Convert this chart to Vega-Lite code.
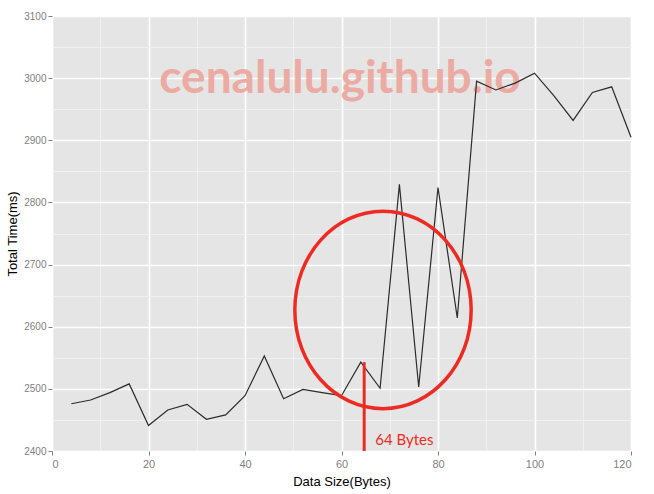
{
  "$schema": "https://vega.github.io/schema/vega-lite/v6.json",
  "autosize": "none",
  "width": 579,
  "height": 435,
  "padding": {"left": 52, "top": 16, "right": 23, "bottom": 43},
  "background": "white",
  "config": {
    "view": {"fill": "#e5e5e5", "stroke": null},
    "font": "Liberation Sans"
  },
  "datasets": {
    "series": [
      {"size": 4, "time": 2476},
      {"size": 8, "time": 2482},
      {"size": 12, "time": 2494},
      {"size": 16, "time": 2508},
      {"size": 20, "time": 2441},
      {"size": 24, "time": 2466},
      {"size": 28, "time": 2475},
      {"size": 32, "time": 2451},
      {"size": 36, "time": 2458},
      {"size": 40, "time": 2489},
      {"size": 44, "time": 2553},
      {"size": 48, "time": 2484},
      {"size": 52, "time": 2499},
      {"size": 56, "time": 2494},
      {"size": 60, "time": 2489},
      {"size": 64, "time": 2543},
      {"size": 68, "time": 2501},
      {"size": 72, "time": 2829},
      {"size": 76, "time": 2503},
      {"size": 80, "time": 2824},
      {"size": 84, "time": 2614},
      {"size": 88, "time": 2995},
      {"size": 92, "time": 2981},
      {"size": 96, "time": 2992},
      {"size": 100, "time": 3008},
      {"size": 104, "time": 2972},
      {"size": 108, "time": 2932},
      {"size": 112, "time": 2977},
      {"size": 116, "time": 2986},
      {"size": 120, "time": 2905}
    ],
    "marker": [{"size": 64.7, "top": 2543, "bottom": 2400}],
    "circle": [{"size": 68.6, "time": 2627}],
    "label": [{"size": 67.0, "time": 2418, "text": "64 Bytes"}],
    "watermark": [{"size": 59.7, "time": 2976, "text": "cenalulu.github.io"}]
  },
  "encoding": {
    "x": {
      "field": "size",
      "type": "quantitative",
      "scale": {"domain": [0, 120], "nice": false, "zero": false},
      "axis": {
        "title": "Data Size(Bytes)",
        "values": [0, 10, 20, 30, 40, 50, 60, 70, 80, 90, 100, 110, 120],
        "labelExpr": "datum.value % 20 === 0 ? datum.label : ''",
        "grid": true,
        "gridColor": {"condition": {"test": "datum.value % 20 === 0", "value": "#ffffff"}, "value": "#f2f2f2"},
        "gridWidth": {"condition": {"test": "datum.value % 20 === 0", "value": 1.6}, "value": 0.8},
        "tickColor": "#7f7f7f",
        "tickOpacity": {"condition": {"test": "datum.value % 20 === 0", "value": 1}, "value": 0},
        "tickSize": 4,
        "domain": false,
        "labelColor": "#808080",
        "labelFontSize": 11,
        "labelPadding": 3,
        "titleColor": "#000000",
        "titleFontSize": 13,
        "titleFontWeight": "normal",
        "titlePadding": 6
      }
    },
    "y": {
      "field": "time",
      "type": "quantitative",
      "scale": {"domain": [2400, 3100], "nice": false, "zero": false},
      "axis": {
        "title": "Total Time(ms)",
        "values": [2400, 2450, 2500, 2550, 2600, 2650, 2700, 2750, 2800, 2850, 2900, 2950, 3000, 3050, 3100],
        "labelExpr": "datum.value % 100 === 0 ? datum.label : ''",
        "format": "d",
        "grid": true,
        "gridColor": {"condition": {"test": "datum.value % 100 === 0", "value": "#ffffff"}, "value": "#f2f2f2"},
        "gridWidth": {"condition": {"test": "datum.value % 100 === 0", "value": 1.6}, "value": 0.8},
        "tickColor": "#7f7f7f",
        "tickOpacity": {"condition": {"test": "datum.value % 100 === 0", "value": 1}, "value": 0},
        "tickSize": 4,
        "domain": false,
        "labelColor": "#808080",
        "labelFontSize": 10,
        "labelPadding": 2,
        "titleColor": "#000000",
        "titleFontSize": 13,
        "titleFontWeight": "normal",
        "titleX": -33,
        "titleBaseline": "bottom"
      }
    }
  },
  "layer": [
    {
      "data": {"name": "watermark"},
      "mark": {"type": "text", "font": "Lato", "fontWeight": "bold", "fontSize": 46, "color": "#eda59b", "opacity": 0.9, "baseline": "alphabetic", "align": "center"},
      "encoding": {"text": {"field": "text"}}
    },
    {
      "data": {"name": "series"},
      "mark": {"type": "line", "color": "#2b2b2b", "strokeWidth": 1.2}
    },
    {
      "data": {"name": "marker"},
      "mark": {"type": "rule", "color": "#ee2b22", "strokeWidth": 3},
      "encoding": {
        "y": {"field": "top", "type": "quantitative"},
        "y2": {"field": "bottom"}
      }
    },
    {
      "data": {"name": "circle"},
      "mark": {
        "type": "point",
        "shape": "M-0.893,0 A0.893,1 0 1,0 0.893,0 A0.893,1 0 1,0 -0.893,0 Z",
        "size": 39000,
        "filled": false,
        "stroke": "#ee2b22",
        "strokeWidth": 3.5,
        "opacity": 1
      }
    },
    {
      "data": {"name": "label"},
      "mark": {"type": "text", "font": "Lato", "fontSize": 15, "color": "#ee2b22", "align": "left", "baseline": "middle"},
      "encoding": {"text": {"field": "text"}}
    }
  ]
}
